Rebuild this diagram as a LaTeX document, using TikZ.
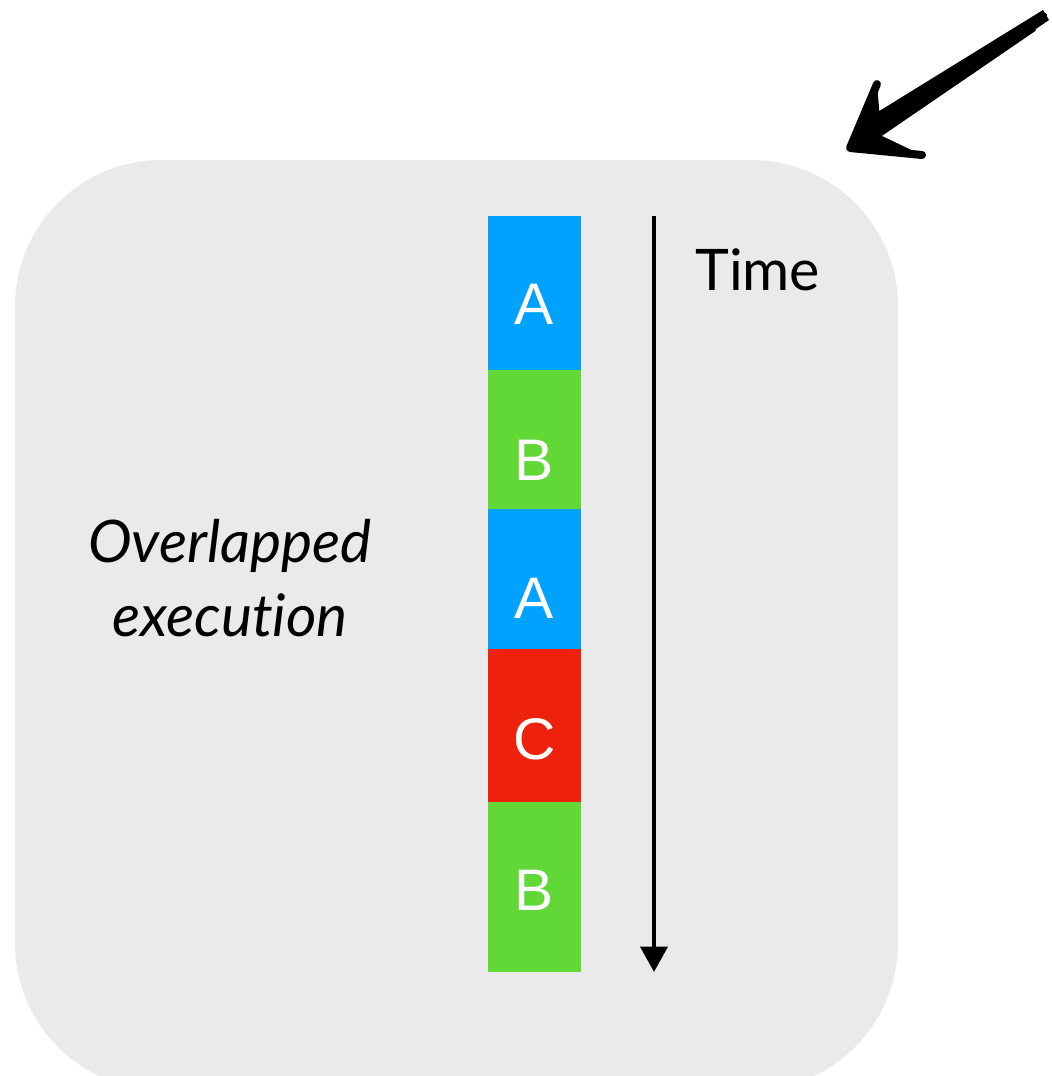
\documentclass[tikz,border=0pt]{standalone}
\usepackage{fontspec}
\setmainfont{Liberation Sans}
\newfontfamily\labfont[Ligatures=NoCommon]{Lato}
\usetikzlibrary{arrows.meta}
\begin{document}
\begin{tikzpicture}[x=0.75pt,y=-0.75pt,
  slot/.style={minimum width=93*0.75pt, inner sep=0pt, outer sep=0pt},
  letter/.style={text=white, inner sep=0pt, font=\fontsize{44}{48}\selectfont},
  sketch/.style={line width=#1, line cap=round, line join=round, black}]
\definecolor{bg}{HTML}{EAEAEA}
\definecolor{ablue}{HTML}{00A2FF}
\definecolor{bgreen}{HTML}{61D836}
\definecolor{cred}{HTML}{EE220C}
\useasboundingbox (0,0) rectangle (1051,1076);
\fill[bg, rounded corners=110] (15,160) rectangle (898,1090);
% blocks
\node[slot, fill=ablue, minimum height=154*0.75pt, anchor=north west] (a1) at (488,216) {};
\node[slot, fill=bgreen, minimum height=139*0.75pt, anchor=north] (b1) at (a1.south) {};
\node[slot, fill=ablue, minimum height=140*0.75pt, anchor=north] (a2) at (b1.south) {};
\node[slot, fill=cred, minimum height=153*0.75pt, anchor=north] (c1) at (a2.south) {};
\node[slot, fill=bgreen, minimum height=170*0.75pt, anchor=north] (b2) at (c1.south) {};
\node[letter] (la1) at (534.5,304) {A};
\node[letter] (lb1) at (534.5,460) {B};
\node[letter] (la2) at (534.5,598) {A};
\node[letter] (lc1) at (534.5,739) {C};
\node[letter] (lb2) at (534.5,890) {B};
% time arrow
\coordinate (t0) at (654,216);
\coordinate (t1) at (654,972);
\draw[line width=3.6pt, -{Triangle[length=19pt,width=20pt]}] (t0) -- (t1);
\node[anchor=base west, font=\labfont\fontsize{43}{48}\selectfont, inner sep=0pt] (time) at (695,290) {Time};
\node[align=center, font=\labfont\itshape\fontsize{44}{56}\selectfont, inner sep=0pt] (lab) at (230,578) {Overlapped\\execution};
% sketchy arrow
\coordinate (tip) at (850,148);
\coordinate (bl) at (877,84);
\coordinate (br) at (922,155);
\fill[black] (1043,10) -- (1049,20) -- (882,134) -- (868,118) -- cycle;
\draw[sketch=3pt] (1045,15) -- (862,132);
\draw[sketch=1.5pt] (1035,30) -- (880,136);
\draw[sketch=6pt] (bl) -- (tip) -- (br);
\fill[black] (877,84) -- (850,148) -- (882,142) -- cycle;
\fill[black] (850,148) -- (922,155) -- (882,136) -- cycle;
\end{tikzpicture}
\end{document}
